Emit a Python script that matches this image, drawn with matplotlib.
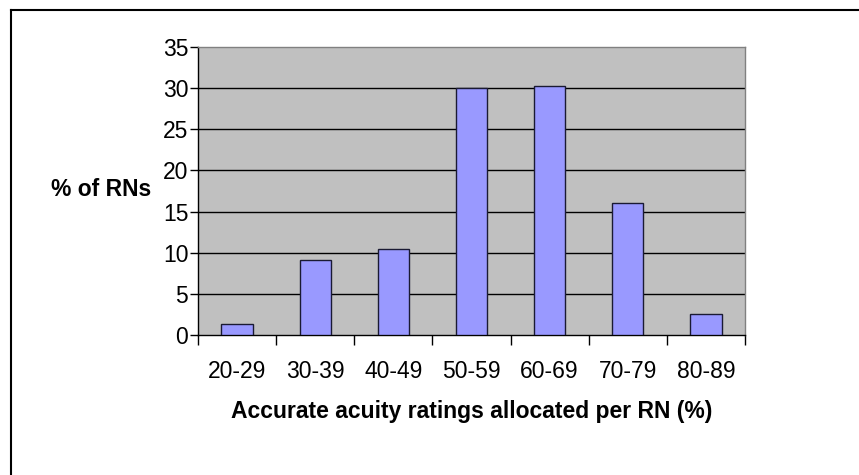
import numpy as np
import matplotlib.pyplot as plt
from matplotlib.lines import Line2D

categories = ['20-29', '30-39', '40-49', '50-59', '60-69', '70-79', '80-89']
values = [1.3, 9.1, 10.4, 30.0, 30.2, 16.1, 2.6]
yticks = [0, 5, 10, 15, 20, 25, 30, 35]

plt.rcParams['font.family'] = ['Liberation Sans', 'DejaVu Sans']

W, H = 859, 475
fs = 16.5
fig = plt.figure(figsize=(W/100., H/100.), dpi=100)
fig.patch.set_facecolor('white')

# plot area in pixels: x 198..745, y 47..335
ax = fig.add_axes([198./W, 1-335./H, (745-198.)/W, (335-47.)/H])
ax.set_facecolor('#C0C0C0')

x = np.arange(len(categories))
ax.bar(x, values, width=0.4, color='#9999FF', edgecolor='#1a1a33', linewidth=1.0, zorder=3)

ax.set_xlim(-0.5, len(categories)-0.5)
ax.set_ylim(0, 35)
ax.set_yticks(yticks)
ax.set_yticklabels([str(v) for v in yticks], fontsize=fs)
for v in yticks[1:-1]:
    ax.axhline(v, color='black', linewidth=1.0, zorder=1)

# x ticks at category boundaries, labels centred
ax.set_xticks(np.arange(len(categories)+1)-0.5)
ax.set_xticklabels([])
ax.set_xticks(x, minor=True)
ax.set_xticklabels(categories, minor=True, fontsize=fs)
ax.tick_params(axis='x', which='major', direction='out', length=7, width=1, color='black')
ax.tick_params(axis='x', which='minor', length=0, pad=18)
ax.tick_params(axis='y', direction='out', length=6, width=1, pad=1)

for s in ['top', 'right']:
    ax.spines[s].set_color('#808080')
    ax.spines[s].set_linewidth(1.0)
for s in ['left', 'bottom']:
    ax.spines[s].set_color('black')
    ax.spines[s].set_linewidth(1.0)

ax.set_xlabel('Accurate acuity ratings allocated per RN (%)', fontsize=fs,
              fontweight='bold', labelpad=12)
fig.text(101./W, 1-190./H, '% of RNs', fontsize=fs, fontweight='bold',
         ha='center', va='center')

# outer chart frame (top and left edges visible)
fig.add_artist(Line2D([11./W, 11./W], [0, 1-10./H], color='black', linewidth=1.5,
                      transform=fig.transFigure))
fig.add_artist(Line2D([11./W, 1], [1-10./H, 1-10./H], color='black', linewidth=1.5,
                      transform=fig.transFigure))

fig.savefig('out.png', dpi=100)
